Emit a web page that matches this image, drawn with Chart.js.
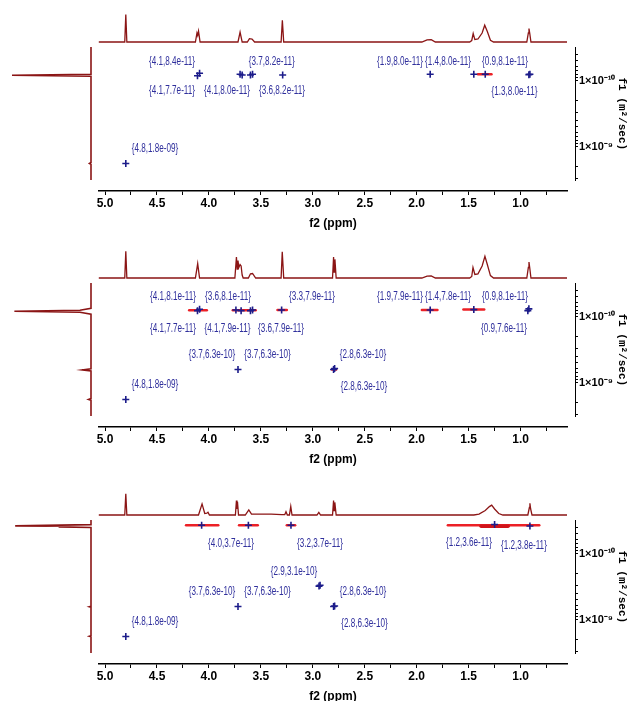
<!DOCTYPE html>
<html>
<head>
<meta charset="utf-8">
<script src="https://cdn.jsdelivr.net/npm/chart.js@4"></script>
<style>
  html, body { margin: 0; padding: 0; background: #fff; }
  #wrap { position: relative; width: 628px; height: 701px; overflow: hidden; }
  #wrap canvas { position: absolute; }
</style>
</head>
<body>
<div id="wrap"></div>
<script>
// axis ranges
var dMin = 3.15e-11, dMax = 3.2e-9;          // f1 (diffusion), shown reversed
var ppmLeft = 5.058, ppmRight = 0.553;       // f2 axis + 1D trace
var box2dLeft = 5.135, box2dRight = 0.476;   // the 2D box is a bit wider

var ppmTicks = [5.0, 4.75, 4.5, 4.25, 4.0, 3.75, 3.5, 3.25, 3.0, 2.75, 2.5, 2.25, 2.0, 1.75, 1.5, 1.25, 1.0, 0.75];
var dTicks = [4e-11, 5e-11, 6e-11, 7e-11, 8e-11, 9e-11, 1e-10, 2e-10, 3e-10, 4e-10, 5e-10, 6e-10, 7e-10, 8e-10, 9e-10, 1e-9, 2e-9, 3e-9];

// ---------- panel 1 ----------
// 1D trace: [ppm, intensity]
var p1Spectrum = [[5.06,0],[4.81,0],[4.80,92],[4.79,0],
  [4.13,0],[4.115,30],[4.108,22],[4.10,36],[4.085,0],
  [3.72,0],[3.70,33],[3.68,0],[3.63,0],[3.61,11],[3.585,10],[3.56,0],
  [3.305,0],[3.293,72],[3.28,0],
  [1.95,0],[1.90,7],[1.86,8],[1.82,0],
  [1.49,0],[1.47,5],[1.456,28],[1.44,8],[1.41,10],[1.37,30],[1.345,56],[1.32,35],[1.29,6],[1.26,0],
  [0.94,0],[0.925,30],[0.919,45],[0.912,30],[0.90,0],[0.553,0]];
// F1 projection: [D, intensity]
var p1Projection = [[3.15e-11,0],[8.1e-11,0],[8.4e-11,100],[8.7e-11,0],[1.74e-9,0],[1.8e-9,2],[1.86e-9,0],[3.2e-9,0]];
// peaks: [ppm, D]
var p1Points = [[4.11,8.4e-11],[4.09,7.7e-11],[3.70,8.0e-11],[3.68,8.2e-11],[3.60,8.2e-11],[3.58,8.0e-11],
  [3.29,8.2e-11],[1.87,8.0e-11],[1.45,8.0e-11],[1.34,8.0e-11],[0.92,8.1e-11],[0.91,8.0e-11],[4.80,1.8e-9]];
// red contour streaks: [ppm from, ppm to, D]
var p1Smears = [[1.41,1.28,8.0e-11]];
var p1Wide = [];
// annotations: [text, ppm, D]
var p1Labels = [['{4.1,8.4e-11}',4.355,5.14e-11],['{4.1,7.7e-11}',4.355,1.42e-10],['{4.1,8.0e-11}',3.826,1.42e-10],
  ['{3.7,8.2e-11}',3.396,5.14e-11],['{3.6,8.2e-11}',3.296,1.42e-10],['{1.9,8.0e-11}',2.161,5.14e-11],
  ['{1.4,8.0e-11}',1.699,5.14e-11],['{0.9,8.1e-11}',1.150,5.14e-11],['{1.3,8.0e-11}',1.059,1.47e-10],
  ['{4.8,1.8e-09}',4.519,1.05e-9]];

// ---------- panel 2 ----------
var p2Spectrum = [[5.06,0],[4.81,0],[4.80,89],[4.79,0],
  [4.13,0],[4.108,48],[4.09,0],
  [3.75,0],[3.735,70],[3.728,30],[3.72,58],[3.712,35],[3.70,45],[3.69,40],[3.68,10],[3.67,0],
  [3.62,0],[3.60,14],[3.58,15],[3.55,0],
  [3.305,0],[3.294,87],[3.28,0],
  [2.81,0],[2.80,70],[2.795,20],[2.787,62],[2.775,0],
  [1.95,0],[1.90,6],[1.86,7],[1.82,0],
  [1.49,0],[1.47,5],[1.458,35],[1.44,12],[1.41,14],[1.37,40],[1.343,72],[1.32,45],[1.29,8],[1.26,0],
  [0.94,0],[0.925,35],[0.919,53],[0.912,35],[0.90,0],[0.553,0]];
var p2Projection = [[3.15e-11,0],[7.6e-11,0],[8.1e-11,14],[8.4e-11,97],[8.7e-11,14],[9.3e-11,0],
  [6.2e-10,0],[6.45e-10,11],[6.7e-10,0],[1.75e-9,0],[1.8e-9,3],[1.85e-9,0],[3.2e-9,0]];
var p2Points = [[4.11,8.1e-11],[4.09,7.7e-11],[3.74,7.9e-11],[3.69,8.1e-11],[3.60,8.1e-11],[3.58,7.9e-11],
  [3.30,7.9e-11],[1.87,7.9e-11],[1.45,7.8e-11],[0.93,8.1e-11],[0.92,7.6e-11],
  [3.72,6.3e-10],[2.80,6.3e-10],[2.79,6.1e-10],[4.80,1.8e-9]];
var p2Smears = [[4.19,4.02,8.0e-11],[3.77,3.55,8.0e-11],[3.34,3.25,7.9e-11],[1.95,1.80,7.9e-11],[1.55,1.35,7.8e-11],[2.815,2.775,6.3e-10]];
var p2Wide = [];
var p2Labels = [['{4.1,8.1e-11}',4.346,4.97e-11],['{4.1,7.7e-11}',4.346,1.51e-10],['{3.6,8.1e-11}',3.816,4.97e-11],
  ['{4.1,7.9e-11}',3.821,1.51e-10],['{3.6,7.9e-11}',3.306,1.51e-10],['{3.3,7.9e-11}',3.008,4.97e-11],
  ['{1.9,7.9e-11}',2.161,4.97e-11],['{1.4,7.8e-11}',1.699,4.97e-11],['{0.9,8.1e-11}',1.150,4.97e-11],
  ['{0.9,7.6e-11}',1.160,1.51e-10],['{3.7,6.3e-10}',3.970,3.79e-10],['{3.7,6.3e-10}',3.436,3.79e-10],
  ['{2.8,6.3e-10}',2.517,3.79e-10],['{2.8,6.3e-10}',2.507,1.15e-9],['{4.8,1.8e-09}',4.519,1.08e-9]];

// ---------- panel 3 ----------
var p3Spectrum = [[5.06,0],[4.81,0],[4.80,71],[4.79,0],
  [4.10,0],[4.066,37],[4.04,5],[4.02,6],[4.009,9],[3.995,0],
  [3.745,0],[3.735,48],[3.73,20],[3.725,44],[3.715,0],
  [3.65,0],[3.616,17],[3.59,3],[3.40,3],[3.30,1],
  [3.27,1],[3.258,11],[3.245,0],[3.225,0],[3.212,29],[3.20,0],
  [2.96,0],[2.942,9],[2.925,0],
  [2.81,0],[2.80,48],[2.795,15],[2.788,42],[2.775,0],
  [1.45,0],[1.40,3],[1.34,15],[1.30,28],[1.278,33],[1.25,20],[1.21,5],[1.17,0],
  [0.93,0],[0.915,25],[0.910,39],[0.903,20],[0.89,0],[0.553,0]];
var p3Projection = [[3.15e-11,0],[3.7e-11,0],[3.86e-11,96],[3.92e-11,40],[4.0e-11,40],[4.08e-11,0],
  [6.3e-10,0],[6.4e-10,2],[6.5e-10,0],[1.76e-9,0],[1.79e-9,2],[1.82e-9,0],[3.2e-9,0]];
var p3Points = [[4.07,3.7e-11],[3.62,3.7e-11],[3.21,3.7e-11],[1.25,3.6e-11],[0.91,3.8e-11],
  [3.72,6.3e-10],[2.94,3.1e-10],[2.93,3.0e-10],[2.80,6.3e-10],[2.79,6.2e-10],[4.80,1.8e-9]];
var p3Smears = [[4.22,3.91,3.7e-11],[3.71,3.53,3.7e-11],[3.25,3.17,3.7e-11],[1.70,0.82,3.7e-11]];
var p3Wide = [[1.38,1.12,3.85e-11]];
var p3Labels = [['{4.0,3.7e-11}',3.787,7.12e-11],['{3.2,3.7e-11}',2.931,7.12e-11],['{1.2,3.6e-11}',1.497,6.8e-11],
  ['{1.2,3.8e-11}',0.968,7.4e-11],['{2.9,3.1e-10}',3.181,1.88e-10],['{3.7,6.3e-10}',3.970,3.75e-10],
  ['{3.7,6.3e-10}',3.436,3.75e-10],['{2.8,6.3e-10}',2.517,3.75e-10],['{2.8,6.3e-10}',2.502,1.15e-9],
  ['{4.8,1.8e-09}',4.519,1.08e-9]];

var panels = [
  {top: 0,   spectrum: p1Spectrum, projection: p1Projection, points: p1Points, smears: p1Smears, wide: p1Wide, labels: p1Labels},
  {top: 236, spectrum: p2Spectrum, projection: p2Projection, points: p2Points, smears: p2Smears, wide: p2Wide, labels: p2Labels},
  {top: 473, spectrum: p3Spectrum, projection: p3Projection, points: p3Points, smears: p3Smears, wide: p3Wide, labels: p3Labels}
];

var DARKRED = '#8b1515';
var NAVY = '#1c1c8a';
var SANS = "'Liberation Sans', Arial, sans-serif";

var wrap = document.getElementById('wrap');
function addCanvas(left, top, w, h) {
  var c = document.createElement('canvas');
  c.width = w; c.height = h;
  c.style.left = left + 'px'; c.style.top = top + 'px';
  c.style.width = w + 'px'; c.style.height = h + 'px';
  wrap.appendChild(c);
  return c;
}

function base(padding) {
  return {
    responsive: false, animation: false, devicePixelRatio: 1, events: [],
    layout: {padding: padding},
    plugins: {legend: {display: false}, tooltip: {enabled: false}}
  };
}

var supDigits = {'-': '\u207B', '0': '\u2070', '1': '\u00B9', '2': '\u00B2', '3': '\u00B3', '4': '\u2074',
  '5': '\u2075', '6': '\u2076', '7': '\u2077', '8': '\u2078', '9': '\u2079'};
function sup(n) { return String(n).split('').map(function(ch){ return supDigits[ch]; }).join(''); }
function isDecade(v) { var l = Math.log10(v); return Math.abs(l - Math.round(l)) < 1e-6; }

// blue {ppm,D} annotations, placed through the chart scales
// (the original uses a condensed face, so squeeze the text a bit)
var peakLabels = {
  id: 'peakLabels',
  afterDatasetsDraw: function(chart, args, opts) {
    if (!opts.items) return;
    var ctx = chart.ctx, x = chart.scales.x, y = chart.scales.y;
    ctx.save();
    ctx.font = '12.5px ' + SANS;
    ctx.fillStyle = '#2f2f9c';
    ctx.textAlign = 'center';
    ctx.textBaseline = 'middle';
    opts.items.forEach(function(l) {
      ctx.save();
      ctx.translate(x.getPixelForValue(l[1]), y.getPixelForValue(l[2]));
      ctx.scale(0.65, 1);
      ctx.fillText(l[0], 0, 0);
      ctx.restore();
    });
    ctx.restore();
  }
};

function buildPanel(p) {
  var P = p.top;

  // top 1D spectrum
  var o1 = base({left: 99, right: 61, top: 2, bottom: 2});
  o1.scales = {
    x: {type: 'linear', display: false, min: ppmRight, max: ppmLeft, reverse: true},
    y: {type: 'linear', display: false, min: 0, max: 100}
  };
  new Chart(addCanvas(0, P + 10, 628, 34), {
    type: 'scatter',
    data: {datasets: [{
      data: p.spectrum.map(function(s){ return {x: s[0], y: s[1]}; }),
      showLine: true, pointRadius: 0, borderColor: DARKRED, borderWidth: 1.3, clip: false
    }]},
    options: o1
  });

  // left F1 projection
  var o2 = base({left: 12, right: 9, top: 2, bottom: 2});
  o2.scales = {
    x: {type: 'linear', display: false, min: 0, max: 100, reverse: true},
    y: {type: 'logarithmic', display: false, min: dMin, max: dMax, reverse: true}
  };
  new Chart(addCanvas(0, P + 45, 100, 137), {
    type: 'scatter',
    data: {datasets: [{
      data: p.projection.map(function(s){ return {x: s[1], y: s[0]}; }),
      showLine: true, pointRadius: 0, borderColor: DARKRED, borderWidth: 1.6, clip: false
    }]},
    options: o2
  });

  // 2D DOSY map
  var sets = [{
    data: p.points.map(function(s){ return {x: s[0], y: s[1]}; }),
    pointStyle: 'cross', pointRadius: 3.5, pointBorderWidth: 1.6,
    borderColor: NAVY, backgroundColor: NAVY, showLine: false
  }];
  p.wide.forEach(function(s) {
    sets.push({data: [{x: s[0], y: s[2]}, {x: s[1], y: s[2]}], showLine: true, pointRadius: 0,
      borderColor: '#d0141a', borderWidth: 3.5, borderCapStyle: 'round'});
  });
  p.smears.forEach(function(s) {
    sets.push({data: [{x: s[0], y: s[2]}, {x: s[1], y: s[2]}], showLine: true, pointRadius: 0,
      borderColor: '#ec2026', borderWidth: 2.5, borderCapStyle: 'round'});
  });
  var o3 = base({left: 91, right: 0, top: 7, bottom: 10});
  o3.plugins.peakLabels = {items: p.labels};
  o3.scales = {
    x: {type: 'linear', display: false, min: box2dRight, max: box2dLeft, reverse: true},
    y: {
      type: 'logarithmic', position: 'right', min: dMin, max: dMax, reverse: true,
      afterBuildTicks: function(scale) { scale.ticks = dTicks.map(function(v){ return {value: v}; }); },
      afterFit: function(scale) { scale.width = 53; },
      grid: {drawOnChartArea: false, drawTicks: true, tickLength: 3, color: '#000'},
      border: {display: true, color: '#000', width: 1},
      ticks: {
        autoSkip: false, padding: 1, color: '#000',
        font: {family: SANS, size: 11, weight: 'bold'},
        callback: function(v) { return isDecade(v) ? '1\u00D710' + sup(Math.round(Math.log10(v))) : ''; }
      },
      title: {display: true, text: 'f1 (m\u00B2/sec)', color: '#000', padding: 0,
        font: {family: "'Liberation Mono', 'DejaVu Sans Mono', monospace", size: 11, weight: 'bold'}}
    }
  };
  new Chart(addCanvas(0, P + 40, 628, 150), {
    type: 'scatter',
    data: {datasets: sets},
    options: o3,
    plugins: [peakLabels]
  });

  // f2 axis
  var o4 = base({left: 99, right: 61, top: 1, bottom: 0});
  o4.scales = {
    x: {
      type: 'linear', position: 'bottom', min: ppmRight, max: ppmLeft, reverse: true,
      afterBuildTicks: function(scale) { scale.ticks = ppmTicks.map(function(v){ return {value: v}; }); },
      afterFit: function(scale) { scale.height = 40; },
      grid: {drawOnChartArea: false, drawTicks: true, tickLength: 4, color: '#000'},
      border: {display: true, color: '#000', width: 1.5},
      ticks: {
        autoSkip: false, maxRotation: 0, padding: 1, color: '#000',
        font: {family: SANS, size: 12, weight: 'bold'},
        callback: function(v) { return Math.abs(v * 2 - Math.round(v * 2)) < 1e-6 ? v.toFixed(1) : ''; }
      },
      title: {display: true, text: 'f2 (ppm)', color: '#000', padding: {top: 1, bottom: 0},
        font: {family: SANS, size: 12, weight: 'bold'}}
    },
    y: {display: false, min: 0, max: 1}
  };
  new Chart(addCanvas(0, P + 189, 628, 42), {
    type: 'scatter',
    data: {datasets: [{data: []}]},
    options: o4
  });
}

panels.forEach(buildPanel);
</script>
</body>
</html>
